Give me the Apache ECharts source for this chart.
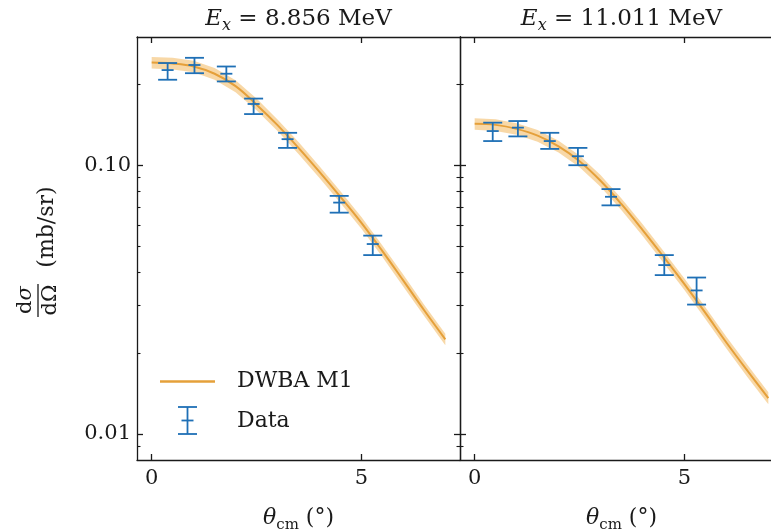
<!DOCTYPE html>
<html><head><meta charset="utf-8">
<script src="https://cdn.jsdelivr.net/npm/echarts@6/dist/echarts.min.js"></script>
<style>html,body{margin:0;padding:0;background:#fff}#c{width:771px;height:529px}</style>
</head><body><div id="c"></div>
<script>
// ---- data ----
const panelTitles = ['8.856 MeV', '11.011 MeV'];
const xTickValues = [0, 5];
const yMajorTicks = [0.01, 0.1];
const yMinorTicks = [0.009, 0.02, 0.03, 0.04, 0.05, 0.06, 0.07, 0.08, 0.09, 0.2];
const legendNames = ['DWBA M1', 'Data'];

const curveTheta = [0, 0.5, 1, 1.5, 2, 2.5, 3, 3.5, 4, 4.5, 5, 5.5, 6, 6.5, 7];
// panel A: Ex = 8.856 MeV
const curveA     = [0.241, 0.239, 0.233, 0.219, 0.197, 0.168, 0.141, 0.116, 0.0944, 0.0762, 0.0610, 0.0479, 0.0372, 0.0288, 0.0225];
const bandHighA  = [0.253, 0.251, 0.245, 0.230, 0.207, 0.177, 0.148, 0.122, 0.0991, 0.0800, 0.0641, 0.0503, 0.0391, 0.0302, 0.0236];
const bandLowA   = [0.229, 0.227, 0.222, 0.208, 0.187, 0.160, 0.134, 0.110, 0.0897, 0.0724, 0.0580, 0.0455, 0.0353, 0.0274, 0.0214];
const dataThetaA = [0.38, 1.02, 1.78, 2.43, 3.24, 4.47, 5.27];
const dataValA   = [0.226, 0.236, 0.219, 0.169, 0.125, 0.0726, 0.0509];
const dataLowA   = [0.208, 0.220, 0.205, 0.155, 0.116, 0.0666, 0.0463];
const dataHighA  = [0.240, 0.251, 0.233, 0.177, 0.132, 0.0769, 0.0547];
// panel B: Ex = 11.011 MeV
const curveB     = [0.1426, 0.1413, 0.1365, 0.1288, 0.1175, 0.1035, 0.0875, 0.0716, 0.0575, 0.0457, 0.0361, 0.0282, 0.0219, 0.0172, 0.0136];
const bandHighB  = [0.1497, 0.1484, 0.1433, 0.1352, 0.1234, 0.1087, 0.0919, 0.0752, 0.0604, 0.0480, 0.0379, 0.0296, 0.0230, 0.0181, 0.0143];
const bandLowB   = [0.1355, 0.1342, 0.1297, 0.1224, 0.1116, 0.0983, 0.0831, 0.0680, 0.0546, 0.0434, 0.0343, 0.0268, 0.0208, 0.0163, 0.0129];
const dataThetaB = [0.43, 1.03, 1.79, 2.46, 3.25, 4.52, 5.29];
const dataValB   = [0.134, 0.138, 0.123, 0.108, 0.0763, 0.0425, 0.0342];
const dataLowB   = [0.123, 0.128, 0.115, 0.100, 0.0709, 0.0390, 0.0303];
const dataHighB  = [0.144, 0.146, 0.132, 0.116, 0.0815, 0.0463, 0.0382];

// ---- styles ----
const FONT = 'DejaVu Serif';
const INK = '#1a1a1a';
const ORANGE = '#e5a03a';
const BAND = 'rgba(242,178,80,0.50)';
const BLUE = '#1f70b6';
const XMIN = -0.35, XMAX = 7.35, YMIN = 0.008, YMAX = 0.30;

const chart = echarts.init(document.getElementById('c'), null, {renderer: 'canvas'});

const grids = [
  {left: 137, top: 37, width: 323, height: 423, outerBoundsMode: 'none', containLabel: false},
  {left: 460, top: 37, width: 323, height: 423, outerBoundsMode: 'none', containLabel: false}
];

function xAxes(g) {
  return [
    {type: 'value', gridIndex: g, min: XMIN, max: XMAX, position: 'bottom',
     axisLine: {show: true, onZero: false, lineStyle: {color: INK, width: 1.3}},
     axisTick: {show: true, inside: true, length: 6, customValues: xTickValues, lineStyle: {color: INK, width: 1.3}},
     axisLabel: {show: true, customValues: xTickValues, margin: 8, fontFamily: FONT, fontSize: 21, color: INK},
     splitLine: {show: false},
     name: '{i|θ}{s|cm}{n| (°)}', nameLocation: 'middle', nameGap: 43,
     nameTextStyle: {rich: {
       i: {fontFamily: FONT, fontStyle: 'italic', fontSize: 22, color: INK, lineHeight: 30, verticalAlign: 'middle'},
       s: {fontFamily: FONT, fontSize: 15, color: INK, lineHeight: 15, verticalAlign: 'bottom'},
       n: {fontFamily: FONT, fontSize: 22, color: INK, lineHeight: 30, verticalAlign: 'middle'}
     }}},
    {type: 'value', gridIndex: g, min: XMIN, max: XMAX, position: 'top',
     axisLine: {show: true, onZero: false, lineStyle: {color: INK, width: 1.3}},
     axisTick: {show: true, inside: true, length: 6, customValues: xTickValues, lineStyle: {color: INK, width: 1.3}},
     axisLabel: {show: false}, splitLine: {show: false}}
  ];
}

function yAxes(g, withLabels, withRight) {
  const base = {type: 'log', logBase: 10, gridIndex: g, min: YMIN, max: YMAX, splitLine: {show: false}, offset: 0};
  const major = (pos, labels) => Object.assign({}, base, {
    position: pos,
    axisLine: {show: true, onZero: false, lineStyle: {color: INK, width: 1.3}},
    axisTick: {show: true, inside: true, length: 6, customValues: yMajorTicks, lineStyle: {color: INK, width: 1.3}},
    axisLabel: {show: labels, customValues: yMajorTicks, margin: 6, fontFamily: FONT, fontSize: 21, color: INK,
                formatter: v => Number(v).toFixed(2)}
  });
  const minor = (pos) => Object.assign({}, base, {
    position: pos,
    axisLine: {show: false, onZero: false},
    axisTick: {show: true, inside: true, length: 3.5, customValues: yMinorTicks, lineStyle: {color: INK, width: 1.1}},
    axisLabel: {show: false}
  });
  const list = [major('left', withLabels), minor('left')];
  if (withRight) list.push(major('right', false), minor('right'));
  return list;
}

function bandSeries(xi, yi, lows, highs) {
  return {
    type: 'custom', xAxisIndex: xi, yAxisIndex: yi, silent: true, z: 1,
    data: curveTheta.map((t, i) => [t, lows[i], highs[i]]),
    encode: {x: 0, y: [1, 2]},
    renderItem: function (params, api) {
      if (params.dataIndex !== 0) return null;
      const top = [], bot = [];
      for (let i = 0; i < curveTheta.length; i++) {
        top.push(api.coord([curveTheta[i], highs[i]]));
        bot.push(api.coord([curveTheta[i], lows[i]]));
      }
      return {type: 'polygon', shape: {points: top.concat(bot.reverse())}, style: {fill: BAND}};
    }
  };
}

function curveSeries(xi, yi, vals) {
  return {
    type: 'line', name: legendNames[0], xAxisIndex: xi, yAxisIndex: yi, z: 2,
    data: curveTheta.map((t, i) => [t, vals[i]]),
    smooth: 0.4, showSymbol: false, symbol: 'none', silent: true,
    lineStyle: {color: ORANGE, width: 2}
  };
}

function errSeries(xi, yi, th, v, lo, hi) {
  return {
    type: 'custom', name: legendNames[1], xAxisIndex: xi, yAxisIndex: yi, z: 3,
    data: th.map((t, i) => [t, v[i], lo[i], hi[i]]),
    encode: {x: 0, y: [1, 2, 3]},
    renderItem: function (params, api) {
      const x = api.value(0);
      const c = api.coord([x, api.value(1)]);
      const l = api.coord([x, api.value(2)]);
      const h = api.coord([x, api.value(3)]);
      const st = {stroke: BLUE, lineWidth: 1.8};
      const cw = 9.5, mw = 6;
      return {type: 'group', children: [
        {type: 'line', shape: {x1: c[0], y1: l[1], x2: c[0], y2: h[1]}, style: st},
        {type: 'line', shape: {x1: c[0] - cw, y1: l[1], x2: c[0] + cw, y2: l[1]}, style: st},
        {type: 'line', shape: {x1: c[0] - cw, y1: h[1], x2: c[0] + cw, y2: h[1]}, style: st},
        {type: 'line', shape: {x1: c[0] - mw, y1: c[1], x2: c[0] + mw, y2: c[1]}, style: st}
      ]};
    }
  };
}

const titleRich = {
  i: {fontFamily: FONT, fontStyle: 'italic', fontSize: 23, fill: INK, lineHeight: 30, verticalAlign: 'middle'},
  s: {fontFamily: FONT, fontStyle: 'italic', fontSize: 16, fill: INK, lineHeight: 16, verticalAlign: 'bottom'},
  n: {fontFamily: FONT, fontSize: 23, fill: INK, lineHeight: 30, verticalAlign: 'middle'}
};

const graphics = [];
panelTitles.forEach((t, k) => {
  graphics.push({type: 'text', x: grids[k].left + grids[k].width / 2, y: 19,
    style: {text: '{i|E}{s|x}{n| = ' + t + '}', rich: titleRich, align: 'center', verticalAlign: 'middle'}});
});
// y-axis label: dσ/dΩ (mb/sr), rotated
graphics.push({type: 'text', x: 26, y: 300, rotation: Math.PI / 2,
  style: {text: '{n|d}{i|σ}', rich: {n: {fontFamily: FONT, fontSize: 21, fill: INK}, i: {fontFamily: FONT, fontStyle: 'italic', fontSize: 21, fill: INK}},
          align: 'center', verticalAlign: 'middle'}});
graphics.push({type: 'line', shape: {x1: 38, y1: 284, x2: 38, y2: 317}, style: {stroke: INK, lineWidth: 1.3}});
graphics.push({type: 'text', x: 51, y: 300, rotation: Math.PI / 2,
  style: {text: 'dΩ', font: '21px "' + FONT + '"', fill: INK, align: 'center', verticalAlign: 'middle'}});
graphics.push({type: 'text', x: 47, y: 227, rotation: Math.PI / 2,
  style: {text: '(mb/sr)', font: '22px "' + FONT + '"', fill: INK, align: 'center', verticalAlign: 'middle'}});
// legend
graphics.push({type: 'line', shape: {x1: 160, y1: 381.5, x2: 215, y2: 381.5}, style: {stroke: ORANGE, lineWidth: 2.5}});
graphics.push({type: 'text', x: 237, y: 381, style: {text: legendNames[0], font: '22px "' + FONT + '"', fill: INK, align: 'left', verticalAlign: 'middle'}});
const lx = 187.5, lt = 407, lb = 434, lm = 420.5;
[[lx, lt, lx, lb], [lx - 9.5, lt, lx + 9.5, lt], [lx - 9.5, lb, lx + 9.5, lb], [lx - 6, lm, lx + 6, lm]].forEach(s => {
  graphics.push({type: 'line', shape: {x1: s[0], y1: s[1], x2: s[2], y2: s[3]}, style: {stroke: BLUE, lineWidth: 1.8}});
});
graphics.push({type: 'text', x: 237, y: 421, style: {text: legendNames[1], font: '22px "' + FONT + '"', fill: INK, align: 'left', verticalAlign: 'middle'}});

const option = {
  backgroundColor: '#fff',
  animation: false,
  grid: grids,
  xAxis: xAxes(0).concat(xAxes(1)),
  yAxis: yAxes(0, true, true).concat(yAxes(1, false, false)),
  series: [
    bandSeries(0, 0, bandLowA, bandHighA),
    curveSeries(0, 0, curveA),
    errSeries(0, 0, dataThetaA, dataValA, dataLowA, dataHighA),
    bandSeries(2, 4, bandLowB, bandHighB),
    curveSeries(2, 4, curveB),
    errSeries(2, 4, dataThetaB, dataValB, dataLowB, dataHighB)
  ],
  graphic: graphics
};
chart.setOption(option);
</script></body></html>
